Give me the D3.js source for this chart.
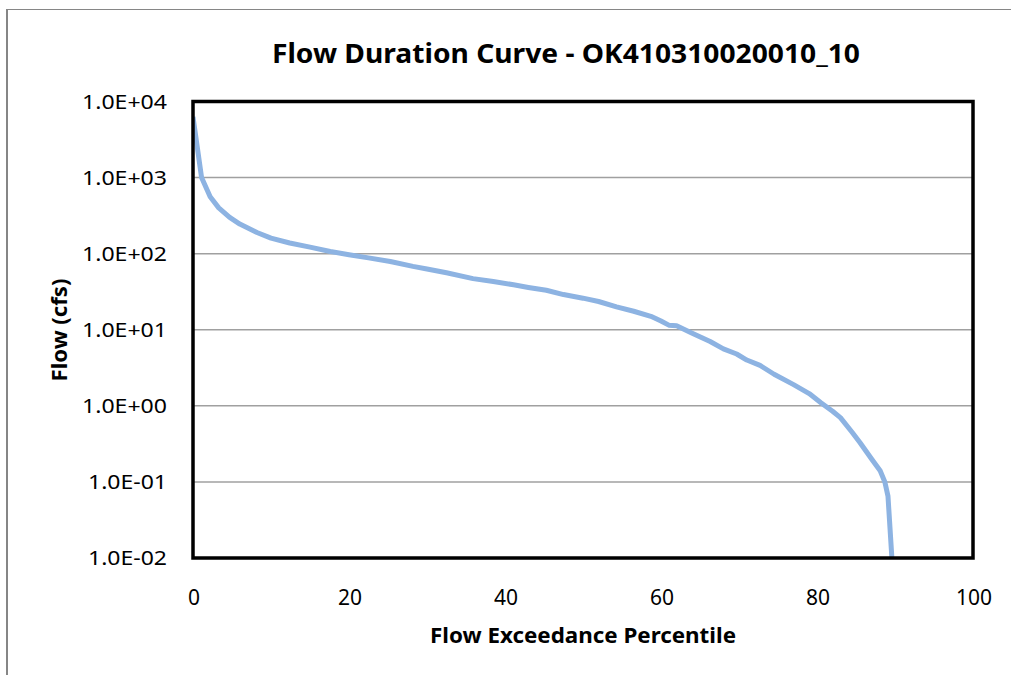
<!DOCTYPE html>
<html><head><meta charset="utf-8">
<script src="https://cdn.jsdelivr.net/npm/d3@7"></script>
<style>body{margin:0;background:#fff}svg{display:block}text{font-family:"Noto Sans","Open Sans",sans-serif;fill:#000}</style>
</head><body><div id="c"></div>
<script>
const title = "Flow Duration Curve - OK410310020010_10";
const xTitle = "Flow Exceedance Percentile";
const yTitle = "Flow (cfs)";
const percentile = [0,1.1,2.2,3.3,4.7,6,8.2,10,12.4,15,17.6,20,22.5,25.3,28.2,30,32.5,35.9,38.5,41.1,43,45.3,47.5,50,52,54.3,56.5,58.7,60,61,62,64,66.3,68,69.7,71,72.7,74.5,77,79,80.5,82,83,84.5,85.5,87,88.1,88.7,89.1,89.6];
const flow = [6300,1000,560,400,300,245,190,160,138,122,107,97,88,79,68,63,56,47,43,39,36,33,29,26,23.5,20,17.5,15,13,11.5,11.3,9,7,5.6,4.8,4,3.4,2.6,1.9,1.45,1.1,0.85,0.7,0.45,0.33,0.2,0.14,0.1,0.065,0.01];
const xTicks = [0,20,40,60,80,100];
const yTicks = [1e4,1e3,1e2,1e1,1e0,1e-1,1e-2];
const yTickLabels = ["1.0E+04","1.0E+03","1.0E+02","1.0E+01","1.0E+00","1.0E-01","1.0E-02"];

const W=1011,H=675;
const svg=d3.select("#c").append("svg").attr("width",W).attr("height",H);
svg.append("line").attr("x1",7).attr("x2",7).attr("y1",9).attr("y2",H).attr("stroke","#868686").attr("stroke-width",2);
svg.append("line").attr("x1",7).attr("x2",W).attr("y1",9.5).attr("y2",9.5).attr("stroke","#868686").attr("stroke-width",1);

const L=193,R=973,T=101.5,B=558;
const x=d3.scaleLinear().domain([0,100]).range([L,R]);
const y=d3.scaleLog().domain([1e-2,1e4]).range([B,T]);

svg.append("g").selectAll("line").data(yTicks.slice(1,-1)).join("line")
  .attr("x1",L).attr("x2",R).attr("y1",d=>y(d)).attr("y2",d=>y(d))
  .attr("stroke","#a0a0a0").attr("stroke-width",1.5);

svg.append("defs").append("clipPath").attr("id","cp").append("rect").attr("x",L).attr("y",T).attr("width",R-L).attr("height",B-T);
const pts=percentile.map((p,i)=>[p,flow[i]]);
svg.append("path").datum(pts).attr("clip-path","url(#cp)")
  .attr("d",d3.line().x(d=>x(d[0])).y(d=>y(d[1])))
  .attr("fill","none").attr("stroke","#8db3e2").attr("stroke-width",5).attr("stroke-linejoin","round");

svg.append("rect").attr("x",L).attr("y",T).attr("width",R-L).attr("height",B-T)
  .attr("fill","none").attr("stroke","#000").attr("stroke-width",3.5);

svg.append("g").selectAll("text").data(yTicks).join("text")
  .attr("x",167).attr("y",d=>y(d)+7).attr("text-anchor","end").attr("font-size",20)
  .attr("textLength",(d,i)=>i>=5?79:85).attr("lengthAdjust","spacingAndGlyphs")
  .text((d,i)=>yTickLabels[i]);
svg.append("g").selectAll("text").data(xTicks).join("text")
  .attr("x",d=>x(d)+1).attr("y",605).attr("text-anchor","middle").attr("font-size",21)
  .text(d=>d);

svg.append("text").attr("x",566).attr("y",63).attr("text-anchor","middle").attr("font-size",26).attr("font-weight","bold")
  .attr("textLength",588).attr("lengthAdjust","spacingAndGlyphs").text(title);
svg.append("text").attr("x",583).attr("y",643).attr("text-anchor","middle").attr("font-size",20.5).attr("font-weight","bold")
  .attr("textLength",306).attr("lengthAdjust","spacingAndGlyphs").text(xTitle);
svg.append("text").attr("transform","translate(67,330) rotate(-90)").attr("text-anchor","middle").attr("font-size",20.5).attr("font-weight","bold")
  .attr("textLength",103).attr("lengthAdjust","spacingAndGlyphs").text(yTitle);
</script></body></html>
